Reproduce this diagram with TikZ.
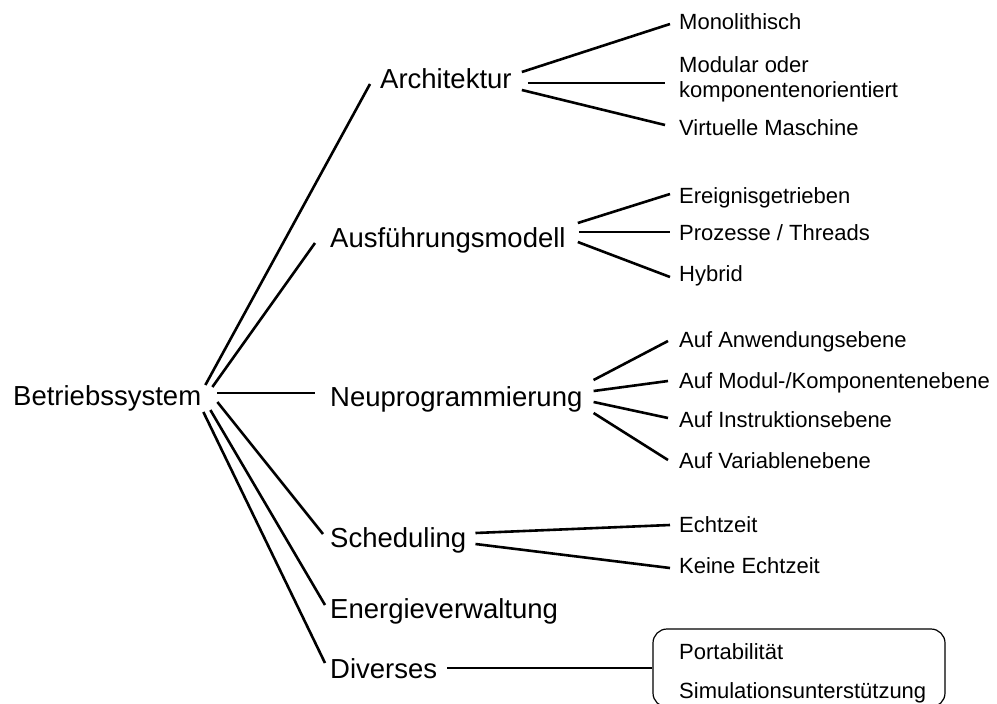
\documentclass[tikz,border=0pt]{standalone}
\usepackage{fontspec}
\setmainfont{Liberation Sans}
\begin{document}
\begin{tikzpicture}[x=1pt,y=-1pt,
  big/.style={anchor=base west, inner sep=0pt, font=\fontsize{27.5}{33}\selectfont},
  small/.style={anchor=base west, inner sep=0pt, font=\fontsize{22}{25}\selectfont},
  link/.style={line width=2.6pt},
  frame/.style={draw, rounded corners=14pt, line width=1.2pt, inner sep=0pt,
    minimum width=292pt, minimum height=78pt}]
\useasboundingbox (0,0) rectangle (997,704);

% root and first level
\node[big] (root)   at (13,405)  {Betriebssystem};
\node[big] (arch)   at (380,88)  {Architektur};
\node[big] (exec)   at (330,247) {Ausführungsmodell};
\node[big] (reprog) at (330,406) {Neuprogrammierung};
\node[big] (sched)  at (330,547) {Scheduling};
\node[big] (energy) at (330,618) {Energieverwaltung};
\node[big] (misc)   at (330,678) {Diverses};

% second level (the two-line node sits on the baseline of its last line)
\node[small] (mono) at (679,30) {Monolithisch};
\node[small, align=left] (modular) at (679,97) {Modular oder\\komponentenorientiert};
\node[small] (vm) at (679,135) {Virtuelle Maschine};
\node[small] (event)  at (679,203) {Ereignisgetrieben};
\node[small] (proc)   at (679,240) {Prozesse / Threads};
\node[small] (hybrid) at (679,281) {Hybrid};
\node[small] (applvl)   at (679,347) {Auf Anwendungsebene};
\node[small] (modlvl)   at (679,388) {Auf Modul-/Komponentenebene};
\node[small] (instrlvl) at (679,427) {Auf Instruktionsebene};
\node[small] (varlvl)   at (679,468) {Auf Variablenebene};
\node[small] (rt)   at (679,532) {Echtzeit};
\node[small] (nort) at (679,573) {Keine Echtzeit};
\node[frame] (miscbox) at (799,668) {};
\node[small] (port) at (679,659) {Portabilität};
\node[small] (sim)  at (679,698) {Simulationsunterstützung};

% root connectors
\draw[link] ([shift={(4,-20)}]root.base east)  -- ([shift={(-10,-4)}]arch.base west);
\draw[link] ([shift={(11,-18)}]root.base east) -- ([shift={(-15,-4)}]exec.base west);
\draw[link] ([shift={(16,-12)}]root.base east) -- ([shift={(-15,-13)}]reprog.base west);
\draw[link] ([shift={(16,-3)}]root.base east)  -- ([shift={(-7,-13)}]sched.base west);
\draw[link] ([shift={(9,5)}]root.base east)    -- ([shift={(-5,-13)}]energy.base west);
\draw[link] ([shift={(2,7)}]root.base east)    -- ([shift={(-5,-15)}]misc.base west);

% Architektur
\draw[link] ([shift={(10,-16)}]arch.base east) -- ([shift={(-9,-6)}]mono.base west);
\draw[link] ([shift={(16,-5)}]arch.base east)  -- ([shift={(-14,-14)}]modular.base west);
\draw[link] ([shift={(10,2)}]arch.base east)   -- ([shift={(-14,-10)}]vm.base west);

% Ausfuehrungsmodell
\draw[link] ([shift={(12,-24)}]exec.base east) -- ([shift={(-9,-9)}]event.base west);
\draw[link] ([shift={(13,-15)}]exec.base east) -- ([shift={(-9,-8)}]proc.base west);
\draw[link] ([shift={(12,-5)}]exec.base east)  -- ([shift={(-9,-4)}]hybrid.base west);

% Neuprogrammierung
\draw[link] ([shift={(11,-26)}]reprog.base east) -- ([shift={(-11,-6)}]applvl.base west);
\draw[link] ([shift={(11,-15)}]reprog.base east) -- ([shift={(-11,-7)}]modlvl.base west);
\draw[link] ([shift={(11,-4)}]reprog.base east)  -- ([shift={(-11,-9)}]instrlvl.base west);
\draw[link] ([shift={(11,7)}]reprog.base east)   -- ([shift={(-11,-8)}]varlvl.base west);

% Scheduling
\draw[link] ([shift={(9,-14)}]sched.base east) -- ([shift={(-9,-7)}]rt.base west);
\draw[link] ([shift={(9,-3)}]sched.base east)  -- ([shift={(-9,-5)}]nort.base west);

% Diverses
\draw[link] ([shift={(10,-10)}]misc.base east) -- (miscbox.west);
\end{tikzpicture}
\end{document}
